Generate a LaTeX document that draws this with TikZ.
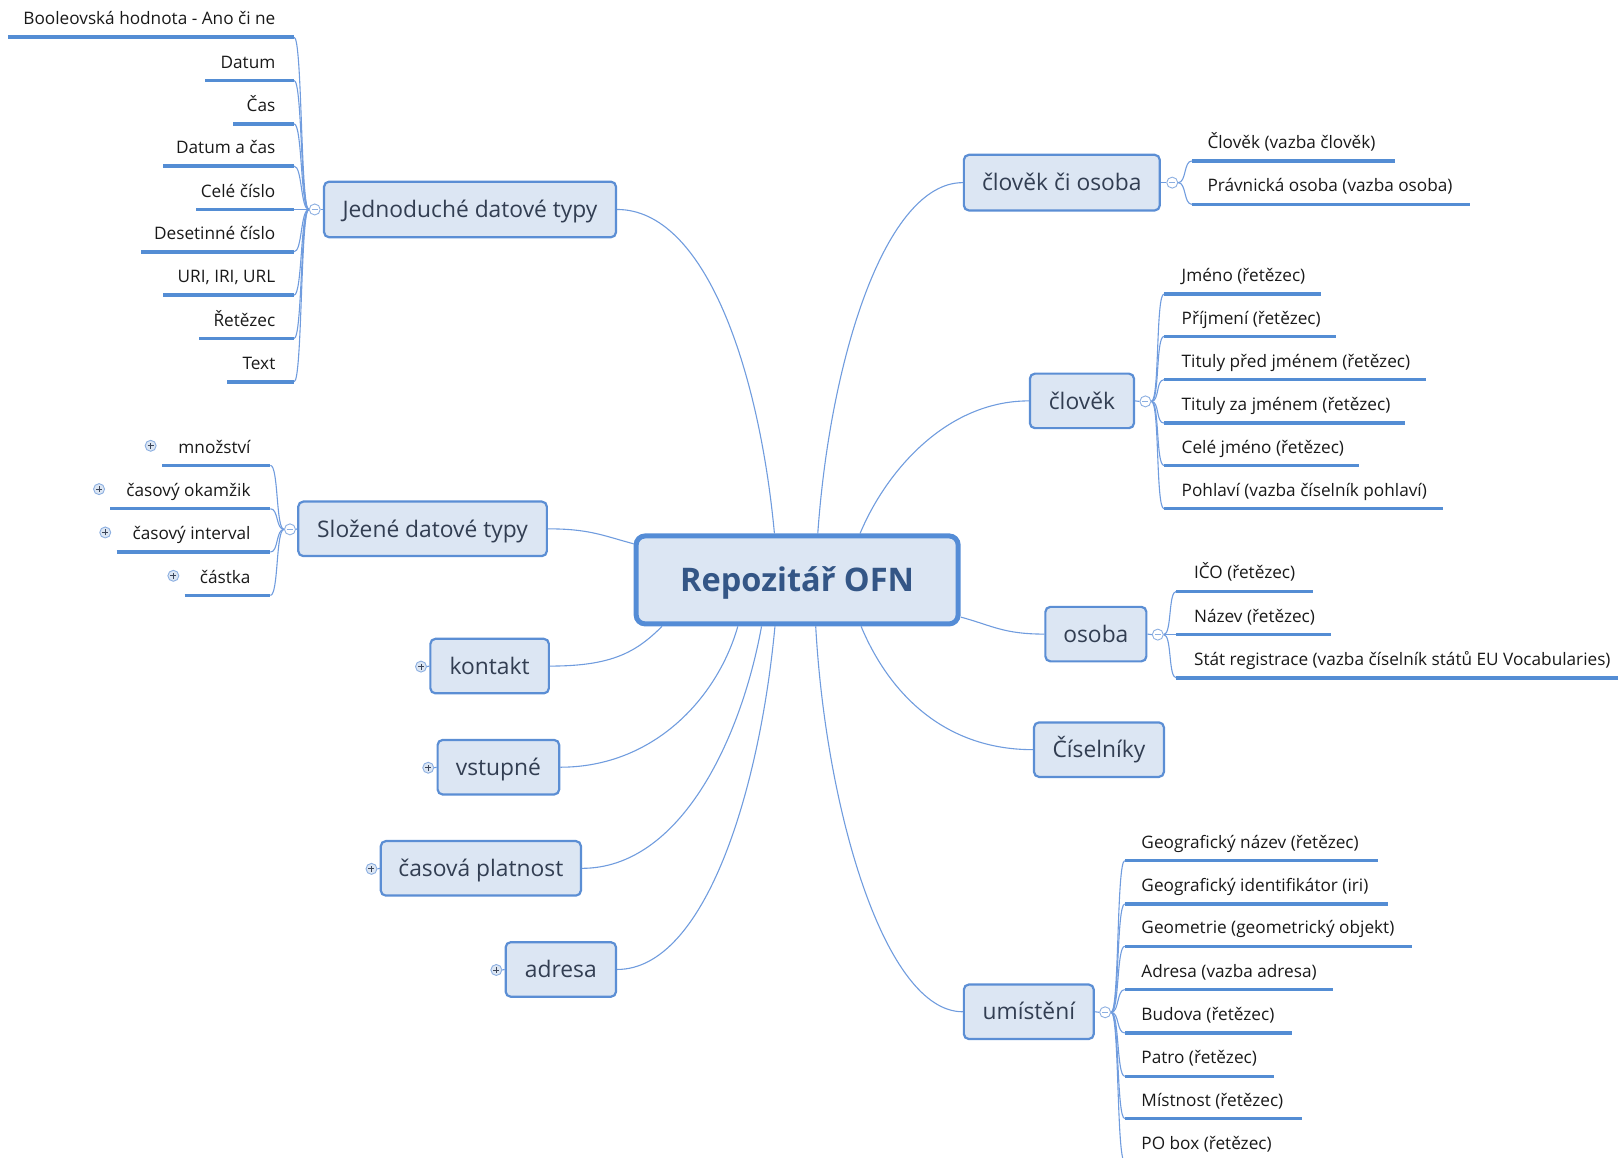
\documentclass[tikz,border=0pt]{standalone}
\usepackage{fontspec}
\setmainfont{Open Sans}
\usetikzlibrary{calc}
\definecolor{conncol}{RGB}{112,156,222}
\definecolor{ulcol}{RGB}{84,141,212}
\definecolor{topicborder}{RGB}{91,142,212}
\definecolor{centralborder}{RGB}{84,140,214}
\definecolor{topicfill}{RGB}{220,230,243}
\definecolor{topictext}{RGB}{50,62,82}
\definecolor{centraltext}{RGB}{52,86,134}
\definecolor{leaftext}{RGB}{25,25,25}
\definecolor{circcol}{RGB}{140,175,225}
\definecolor{pluscol}{RGB}{60,70,90}
\pgfdeclarelayer{bg}
\pgfsetlayers{bg,main}
\begin{document}
\begin{tikzpicture}[x=1.0319pt,y=-1.0319pt,
  topic/.style={draw=topicborder, line width=2.2pt, fill=topicfill, rounded corners=5pt, text=topictext, font=\fontsize{22.8}{27}\selectfont, inner sep=0pt, text height=16.4pt, text depth=0pt},
  tsize/.style 2 args={minimum width=#1, minimum height=#2},
  central/.style={draw=centralborder, line width=5pt, fill=topicfill, rounded corners=9pt, text=centraltext, font=\fontsize{32.5}{38}\selectfont\bfseries, minimum width=322pt, minimum height=88pt, inner sep=0pt, text height=23.4pt, text depth=0pt},
  leaf/.style={text=leaftext, font=\fontsize{17.2}{20}\selectfont, inner sep=0pt},
  uline/.style={draw=ulcol, line width=3.5pt},
  conn/.style={draw=conncol, line width=1.1pt},
  mcirc/.style={circle, draw=circcol, fill=white, line width=0.9pt, minimum size=11pt, inner sep=0pt,
    path picture={\draw[circcol, line width=0.9pt] ([xshift=-3pt]path picture bounding box.center) -- ([xshift=3pt]path picture bounding box.center);}},
  pcirc/.style={circle, draw=circcol, fill=topicfill, line width=0.9pt, minimum size=11pt, inner sep=0pt,
    path picture={\draw[pluscol, line width=0.9pt] ([xshift=-3pt]path picture bounding box.center) -- ([xshift=3pt]path picture bounding box.center) ([yshift=-3pt]path picture bounding box.center) -- ([yshift=3pt]path picture bounding box.center);}}
]
\useasboundingbox (0,0) rectangle (1568,1122);
\clip (0,0) rectangle (1568,1122);

% central
\node[central] (C) at (772.5,562) {Repozitář OFN};

% topics
\node[topic, tsize={291.9pt}{55.6pt}] (jed) at (455.5,203) {Jednoduché datové typy};
\node[topic, tsize={248.6pt}{54.5pt}] (slo) at (409.5,512.5) {Složené datové typy};
\node[topic, tsize={118.5pt}{54.5pt}] (kon) at (474.5,645.5) {kontakt};
\node[topic, tsize={121.6pt}{54.5pt}] (vst) at (483,743.5) {vstupné};
\node[topic, tsize={200.1pt}{54.5pt}] (cas) at (466,841.5) {časová platnost};
\node[topic, tsize={110.3pt}{54.5pt}] (adr) at (543.5,939.5) {adresa};
\node[topic, tsize={195.9pt}{55.6pt}] (clo) at (1029,177) {člověk či osoba};
\node[topic, tsize={104.1pt}{54.5pt}] (clv) at (1048.5,388.5) {člověk};
\node[topic, tsize={101pt}{54.5pt}] (oso) at (1062,614.5) {osoba};
\node[topic, tsize={129.9pt}{54.5pt}] (cis) at (1065,726.5) {Číselníky};
\node[topic, tsize={129.9pt}{54.5pt}] (umi) at (997,980.5) {umístění};

% collapse / expand markers
\node[mcirc] (jc) at (305,203) {};
\node[mcirc] (sc) at (281,513) {};
\node[mcirc] (cc) at (1136,177) {};
\node[mcirc] (vc) at (1110,389) {};
\node[mcirc] (oc) at (1122,615) {};
\node[mcirc] (uc) at (1071,981) {};
\node[pcirc] (kp) at (408,646) {};
\node[pcirc] (vp) at (415,744) {};
\node[pcirc] (cp) at (360,842) {};
\node[pcirc] (ap) at (481,940) {};

\begin{pgfonlayer}{bg}
% main connectors
\draw[conn] (jed.east) .. controls +(85,0) and +(-15,-160) .. ($(C.north)+(-22,0)$);
\draw[conn] (clo.west) .. controls +(-75,0) and +(12,-170) .. ($(C.north)+(20,0)$);
\draw[conn] (clv.west) .. controls +(-80,0) and +(25,-60) .. ($(C.north)+(61,0)$);
\draw[conn] (slo.east) .. controls +(40,0) and +(-30,-8) .. ($(C.west)+(0,-35)$);
\draw[conn] (oso.west) .. controls +(-40,0) and +(30,8) .. ($(C.east)+(0,36)$);
\draw[conn] (cis.west) .. controls +(-90,0) and +(25,60) .. ($(C.south)+(62,0)$);
\draw[conn] (umi.west) .. controls +(-75,0) and +(10,180) .. ($(C.south)+(18,0)$);
\draw[conn] (kon.east) .. controls +(60,0) and +(-25,25) .. ($(C.south)+(-131,0)$);
\draw[conn] (vst.east) .. controls +(90,0) and +(-20,70) .. ($(C.south)+(-57.5,0)$);
\draw[conn] (cas.east) .. controls +(95,0) and +(-20,110) .. ($(C.south)+(-34.5,0)$);
\draw[conn] (adr.east) .. controls +(85,0) and +(-15,160) .. ($(C.south)+(-21.5,0)$);
% stubs
\draw[conn] (jed.west) -- (jc.east);
\draw[conn] (slo.west) -- (sc.east);
\draw[conn] (clo.east) -- (cc.west);
\draw[conn] (clv.east) -- (vc.west);
\draw[conn] (oso.east) -- (oc.west);
\draw[conn] (umi.east) -- (uc.west);
\draw[conn] (kon.west) -- (kp.east);
\draw[conn] (vst.west) -- (vp.east);
\draw[conn] (cas.west) -- (cp.east);
\draw[conn] (adr.west) -- (ap.east);
\end{pgfonlayer}

% Jednoduché datové typy leaves
\foreach \t/\y/\x [count=\i] in {{Booleovská hodnota - Ano či ne}/36/8, {Datum}/78/199, {Čas}/120/226, {Datum a čas}/161/158, {Celé číslo}/203/190, {Desetinné číslo}/244/137, {URI, IRI, URL}/286/158, {Řetězec}/328/193, {Text}/370/220}{
  \node[leaf, anchor=base east] (j\i) at (267,\y-12) {\t};
  \coordinate (j\i s) at (\x,\y);
  \coordinate (j\i e) at (285,\y);
  \draw[uline] (j\i s) -- (j\i e);
  \begin{pgfonlayer}{bg}
  \draw[conn] (jc.west) .. controls +(-8,0) and +(8,0) .. (j\i e);
  \end{pgfonlayer}
}

% Složené datové typy leaves
\foreach \t/\y/\x/\px [count=\i] in {{množství}/451/157/146, {časový okamžik}/493/107/96, {časový interval}/535/113/102, {částka}/577/179/168}{
  \node[leaf, anchor=base east] (s\i) at (243,\y-12) {\t};
  \node[pcirc] (s\i p) at (\px,\y-19) {};
  \coordinate (s\i s) at (\x,\y);
  \coordinate (s\i e) at (262,\y);
  \draw[uline] (s\i s) -- (s\i e);
  \begin{pgfonlayer}{bg}
  \draw[conn] (sc.west) .. controls +(-8,0) and +(8,0) .. (s\i e);
  \end{pgfonlayer}
}

% člověk či osoba leaves
\foreach \t/\y/\x [count=\i] in {{Člověk (vazba člověk)}/156/1352, {Právnická osoba (vazba osoba)}/198/1425}{
  \node[leaf, anchor=base west] (c\i) at (1170,\y-12) {\t};
  \coordinate (c\i s) at (1155,\y);
  \coordinate (c\i e) at (\x,\y);
  \draw[uline] (c\i s) -- (c\i e);
  \begin{pgfonlayer}{bg}
  \draw[conn] (cc.east) .. controls +(8,0) and +(-8,0) .. (c\i s);
  \end{pgfonlayer}
}

% člověk leaves
\foreach \t/\y/\x [count=\i] in {{Jméno (řetězec)}/285/1280, {Příjmení (řetězec)}/326/1295, {Tituly před jménem (řetězec)}/368/1382, {Tituly za jménem (řetězec)}/410/1362, {Celé jméno (řetězec)}/451/1317, {Pohlaví (vazba číselník pohlaví)}/493/1398}{
  \node[leaf, anchor=base west] (v\i) at (1145,\y-12) {\t};
  \coordinate (v\i s) at (1128,\y);
  \coordinate (v\i e) at (\x,\y);
  \draw[uline] (v\i s) -- (v\i e);
  \begin{pgfonlayer}{bg}
  \draw[conn] (vc.east) .. controls +(8,0) and +(-8,0) .. (v\i s);
  \end{pgfonlayer}
}

% osoba leaves
\foreach \t/\y/\x [count=\i] in {{IČO (řetězec)}/573/1272, {Název (řetězec)}/615/1290, {Stát registrace (vazba číselník států EU Vocabularies)}/657/1580}{
  \node[leaf, anchor=base west] (o\i) at (1157,\y-12) {\t};
  \coordinate (o\i s) at (1140,\y);
  \coordinate (o\i e) at (\x,\y);
  \draw[uline] (o\i s) -- (o\i e);
  \begin{pgfonlayer}{bg}
  \draw[conn] (oc.east) .. controls +(8,0) and +(-8,0) .. (o\i s);
  \end{pgfonlayer}
}

% umístění leaves
\foreach \t/\y/\x [count=\i] in {{Geografický název (řetězec)}/834/1335, {Geografický identifikátor (iri)}/876/1345, {Geometrie (geometrický objekt)}/917/1368, {Adresa (vazba adresa)}/959/1292, {Budova (řetězec)}/1001/1252, {Patro (řetězec)}/1043/1235, {Místnost (řetězec)}/1084/1262, {PO box (řetězec)}/1126/1250}{
  \node[leaf, anchor=base west] (u\i) at (1106,\y-12) {\t};
  \coordinate (u\i s) at (1090,\y);
  \coordinate (u\i e) at (\x,\y);
  \draw[uline] (u\i s) -- (u\i e);
  \begin{pgfonlayer}{bg}
  \draw[conn] (uc.east) .. controls +(8,0) and +(-8,0) .. (u\i s);
  \end{pgfonlayer}
}
\end{tikzpicture}
\end{document}
